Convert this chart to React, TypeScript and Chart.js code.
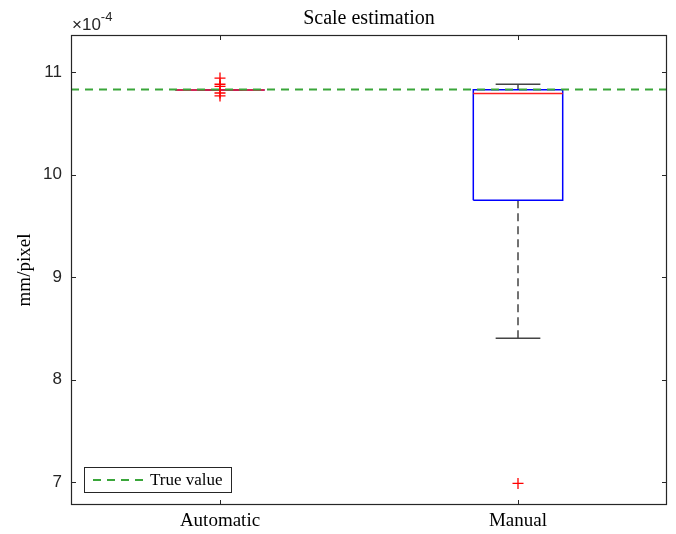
import React, { useEffect, useRef } from 'react';
import { Chart, registerables } from 'chart.js';

Chart.register(...registerables);

// Values on the y axis are in units of 1e-4 mm/pixel
const categories = ['Automatic', 'Manual'];
const positions = [1, 2];
const q1Values = [10.825, 9.75];
const medianValues = [10.825, 10.79];
const q3Values = [10.825, 10.827];
const whiskerLowValues = [10.825, 8.405];
const whiskerHighValues = [10.825, 10.88];
const outliersAutomatic = [10.94, 10.88, 10.86, 10.795, 10.766];
const outliersManual = [6.99];
const trueValue = 10.83;
const yTickValues = [7, 8, 9, 10, 11];
const yExponent = '-4';
const yMin = 6.78;
const yMax = 11.36;
const xMin = 0.5;
const xMax = 2.5;

const SERIF = "'Liberation Serif', 'DejaVu Serif', serif";
const SANS = "'Liberation Sans', Arial, sans-serif";
const AXIS_COLOR = '#262626';
const GREEN = '#3aa63a';
const BOX_HALF = 0.15;
const CAP_HALF = 0.075;

type Pt = { x: number; y: number | null };

function buildBox(): Pt[] {
  const pts: Pt[] = [];
  positions.forEach((p, i) => {
    pts.push({ x: p - BOX_HALF, y: q1Values[i] });
    pts.push({ x: p + BOX_HALF, y: q1Values[i] });
    pts.push({ x: p + BOX_HALF, y: q3Values[i] });
    pts.push({ x: p - BOX_HALF, y: q3Values[i] });
    pts.push({ x: p - BOX_HALF, y: q1Values[i] });
    pts.push({ x: p, y: null });
  });
  return pts;
}

function buildMedian(): Pt[] {
  const pts: Pt[] = [];
  positions.forEach((p, i) => {
    pts.push({ x: p - BOX_HALF, y: medianValues[i] });
    pts.push({ x: p + BOX_HALF, y: medianValues[i] });
    pts.push({ x: p, y: null });
  });
  return pts;
}

function buildWhiskers(): Pt[] {
  const pts: Pt[] = [];
  positions.forEach((p, i) => {
    pts.push({ x: p, y: q3Values[i] });
    pts.push({ x: p, y: whiskerHighValues[i] });
    pts.push({ x: p, y: null });
    pts.push({ x: p, y: q1Values[i] });
    pts.push({ x: p, y: whiskerLowValues[i] });
    pts.push({ x: p, y: null });
  });
  return pts;
}

function buildCaps(): Pt[] {
  const pts: Pt[] = [];
  positions.forEach((p, i) => {
    pts.push({ x: p - CAP_HALF, y: whiskerHighValues[i] });
    pts.push({ x: p + CAP_HALF, y: whiskerHighValues[i] });
    pts.push({ x: p, y: null });
    pts.push({ x: p - CAP_HALF, y: whiskerLowValues[i] });
    pts.push({ x: p + CAP_HALF, y: whiskerLowValues[i] });
    pts.push({ x: p, y: null });
  });
  return pts;
}

function buildOutliers(): Pt[] {
  return [
    ...outliersAutomatic.map((v) => ({ x: positions[0], y: v })),
    ...outliersManual.map((v) => ({ x: positions[1], y: v })),
  ];
}

const decorPlugin = {
  id: 'matlabDecor',
  afterDraw(chart: any) {
    const { ctx, chartArea } = chart;
    const { left, right, top, bottom } = chartArea;
    const xs = chart.scales.x;
    const ys = chart.scales.y;
    ctx.save();
    // inward ticks
    ctx.strokeStyle = AXIS_COLOR;
    ctx.lineWidth = 1;
    ctx.beginPath();
    ys.ticks.forEach((t: any) => {
      const py = Math.round(ys.getPixelForValue(t.value)) + 0.5;
      ctx.moveTo(left, py);
      ctx.lineTo(left + 5, py);
      ctx.moveTo(right, py);
      ctx.lineTo(right - 5, py);
    });
    xs.ticks.forEach((t: any) => {
      const px = Math.round(xs.getPixelForValue(t.value)) + 0.5;
      ctx.moveTo(px, bottom);
      ctx.lineTo(px, bottom - 5);
      ctx.moveTo(px, top);
      ctx.lineTo(px, top + 5);
    });
    ctx.stroke();
    // frame
    ctx.lineWidth = 1.2;
    ctx.strokeRect(Math.round(left) + 0.5, Math.round(top) + 0.5, Math.round(right - left) - 1, Math.round(bottom - top) - 1);

    // exponent label
    ctx.fillStyle = AXIS_COLOR;
    ctx.textBaseline = 'alphabetic';
    ctx.textAlign = 'left';
    ctx.font = `17px ${SANS}`;
    const base = '\u00d710';
    ctx.fillText(base, left + 1, top - 5);
    const w = ctx.measureText(base).width;
    ctx.font = `13px ${SANS}`;
    ctx.fillText(yExponent, left + 1 + w, top - 14);

    // legend
    const lx = left + 13;
    const ly = bottom - 38;
    const lw = 147;
    const lh = 25;
    ctx.fillStyle = '#ffffff';
    ctx.fillRect(lx, ly, lw, lh);
    ctx.strokeStyle = AXIS_COLOR;
    ctx.lineWidth = 1;
    ctx.strokeRect(lx + 0.5, ly + 0.5, lw, lh);
    ctx.strokeStyle = GREEN;
    ctx.lineWidth = 2;
    ctx.setLineDash([8, 6]);
    ctx.beginPath();
    ctx.moveTo(lx + 9, ly + 13);
    ctx.lineTo(lx + 60, ly + 13);
    ctx.stroke();
    ctx.setLineDash([]);
    ctx.fillStyle = '#000000';
    ctx.font = `17px ${SERIF}`;
    ctx.textBaseline = 'middle';
    ctx.fillText('True value', lx + 66, ly + 13.5);
    ctx.restore();
  },
};

export default function App() {
  const ref = useRef<HTMLCanvasElement | null>(null);
  useEffect(() => {
    document.body.style.margin = '0';
    if (!ref.current) return;
    const lineBase = { showLine: true, pointRadius: 0, pointHoverRadius: 0, fill: false, tension: 0, spanGaps: false };
    const chart = new Chart(ref.current, {
      type: 'line',
      data: {
        datasets: [
          {
            ...lineBase,
            label: 'True value',
            data: [{ x: xMin, y: trueValue }, { x: xMax, y: trueValue }],
            borderColor: GREEN,
            borderWidth: 2,
            borderDash: [8, 6],
            order: 0,
          },
          {
            label: 'Outliers',
            type: 'scatter',
            data: buildOutliers(),
            showLine: false,
            pointStyle: 'cross',
            pointRadius: 5.5,
            borderColor: '#ff0000',
            backgroundColor: '#ff0000',
            pointBorderWidth: 1.3,
            order: 1,
          },
          {
            ...lineBase,
            label: 'Median',
            data: buildMedian(),
            borderColor: '#ff2020',
            borderWidth: 1.5,
            order: 2,
          },
          {
            ...lineBase,
            label: 'Box',
            data: buildBox(),
            borderColor: '#0000ff',
            borderWidth: 1.5,
            order: 3,
          },
          {
            ...lineBase,
            label: 'Whiskers',
            data: buildWhiskers(),
            borderColor: '#444444',
            borderWidth: 1.5,
            borderDash: [8, 5],
            order: 4,
          },
          {
            ...lineBase,
            label: 'Caps',
            data: buildCaps(),
            borderColor: '#444444',
            borderWidth: 1.5,
            order: 5,
          },
        ] as any,
      },
      options: {
        animation: false,
        responsive: false,
        maintainAspectRatio: false,
        devicePixelRatio: 1,
        layout: { padding: { right: 9, left: 0, top: 0, bottom: 0 } },
        plugins: {
          legend: { display: false },
          tooltip: { enabled: false },
          title: {
            display: true,
            text: 'Scale estimation',
            fullSize: false,
            color: '#000000',
            font: { family: SERIF, size: 20, weight: 'normal' },
            padding: { top: 7, bottom: 4 },
          },
        },
        scales: {
          x: {
            type: 'linear',
            min: xMin,
            max: xMax,
            grid: { display: false, drawTicks: false },
            border: { display: false },
            afterBuildTicks: (s: any) => {
              s.ticks = positions.map((v) => ({ value: v }));
            },
            afterFit: (s: any) => {
              s.height = 29;
            },
            ticks: {
              color: '#000000',
              font: { family: SERIF, size: 19 },
              padding: 5,
              maxRotation: 0,
              callback: (v: any) => {
                const i = positions.indexOf(Number(v));
                return i >= 0 ? categories[i] : '';
              },
            },
          },
          y: {
            type: 'linear',
            min: yMin,
            max: yMax,
            grid: { display: false, drawTicks: false },
            border: { display: false },
            afterBuildTicks: (s: any) => {
              s.ticks = yTickValues.map((v) => ({ value: v }));
            },
            afterFit: (s: any) => {
              s.width = 71;
            },
            ticks: {
              color: AXIS_COLOR,
              font: { family: SANS, size: 17 },
              padding: 9,
              callback: (v: any) => String(v),
            },
            title: {
              display: true,
              text: 'mm/pixel',
              color: '#000000',
              font: { family: SERIF, size: 19 },
              padding: { top: 14, bottom: 0 },
            },
          },
        },
      } as any,
      plugins: [decorPlugin],
    });
    return () => chart.destroy();
  }, []);
  return (
    <div style={{ width: 676, height: 534, background: '#ffffff' }}>
      <canvas ref={ref} width={676} height={534} style={{ display: 'block' }} />
    </div>
  );
}
